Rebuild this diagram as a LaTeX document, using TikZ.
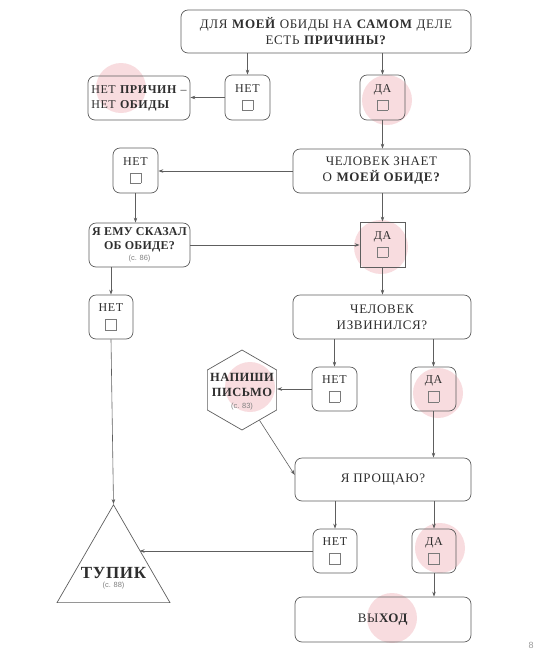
\documentclass[tikz,border=0pt]{standalone}
\usepackage{fontspec}
\setmainfont{Liberation Serif}
\setsansfont{Liberation Sans}
\usetikzlibrary{shapes.geometric,arrows.meta}
\definecolor{linec}{HTML}{5E5E5E}
\definecolor{txtc}{HTML}{2E2E2E}
\definecolor{pinkc}{HTML}{F8DCDF}
\definecolor{cbgray}{HTML}{7A7A7A}
\definecolor{pagec}{HTML}{9A9A9A}
\newcommand{\chkbox}{{\color{cbgray}\setlength{\fboxrule}{0.6pt}\setlength{\fboxsep}{0pt}\fbox{\rule{0pt}{10pt}\rule{10pt}{0pt}}}}
\newcommand{\pgref}[1]{{\sffamily\fontsize{7.5}{8}\selectfont\color{gray}#1}}
\begin{document}
\begin{tikzpicture}[x=1pt,y=-1pt,
  bx/.style={draw=linec, line width=0.7pt, rounded corners=7pt, align=center, text=txtc, inner sep=0pt,
    font=\fontsize{13}{16}\selectfont\addfontfeature{LetterSpace=5}},
  sbx/.style={bx, minimum width=45pt, minimum height=45pt,
    font=\fontsize{12}{14}\selectfont\addfontfeature{LetterSpace=5}},
  arr/.style={draw=linec, line width=0.6pt, -{Stealth[length=5pt,width=3.5pt]}},
  blob/.style={fill=pinkc}
]
\useasboundingbox (0,0) rectangle (535,657);
% pink highlights
\fill[blob] (121,88) circle (25pt);
\fill[blob] (387,100) circle (25pt);
\fill[blob] (381,247) circle (27pt);
\fill[blob] (250,387) circle (25pt);
\fill[blob] (438,393) circle (25pt);
\fill[blob] (440,548) circle (25pt);
\fill[blob] (392,618) circle (25pt);

% nodes
\node[bx, minimum width=290pt, minimum height=43pt] (top) at (326,31.5) {ДЛЯ \textbf{МОЕЙ} ОБИДЫ НА \textbf{САМОМ} ДЕЛЕ\\ЕСТЬ \textbf{ПРИЧИНЫ?}};
\node[sbx] (net1) at (247.5,97.5) {НЕТ\\[4pt]\chkbox};
\node[sbx] (da1) at (382.5,97.5) {ДА\\[4pt]\chkbox};
\node[bx, minimum width=102pt, minimum height=44pt, align=left, font=\fontsize{12}{15}\selectfont\addfontfeature{LetterSpace=5}] (noreason) at (139,98) {НЕТ \textbf{ПРИЧИН} –\\НЕТ \textbf{ОБИДЫ}};
\node[bx, minimum width=177pt, minimum height=44pt] (know) at (381.5,171) {ЧЕЛОВЕК ЗНАЕТ\\О \textbf{МОЕЙ ОБИДЕ?}};
\node[sbx] (net2) at (135.5,170.5) {НЕТ\\[4pt]\chkbox};
\node[bx, minimum width=101pt, minimum height=44pt, font=\bfseries\fontsize{12}{14}\selectfont\addfontfeature{LetterSpace=2}] (told) at (139.5,245) {Я ЕМУ СКАЗАЛ\\ОБ ОБИДЕ?\\[-3pt]\pgref{\mdseries(с. 86)}};
\node[sbx, sharp corners] (da2) at (382.5,244.5) {ДА\\[4pt]\chkbox};
\node[bx, minimum width=178pt, minimum height=44pt] (apol) at (382,317) {ЧЕЛОВЕК\\ИЗВИНИЛСЯ?};
\node[sbx, minimum width=44pt, minimum height=44pt] (net3) at (111,317) {НЕТ\\[4pt]\chkbox};
\node[sbx, minimum height=44pt] (net4) at (334.5,389) {НЕТ\\[4pt]\chkbox};
\node[sbx, minimum height=44pt] (da4) at (433.5,389) {ДА\\[4pt]\chkbox};
\node[draw=linec, line width=0.7pt, regular polygon, regular polygon sides=6, shape border rotate=30, minimum size=80pt, inner sep=0pt] (hex) at (242,390) {};
\node[align=center, text=txtc, font=\bfseries\fontsize{12.5}{15}\selectfont\addfontfeature{LetterSpace=4}] (hext) at (242,392) {НАПИШИ\\ПИСЬМО\\[-3pt]\pgref{\mdseries(с. 83)}};
\node[bx, minimum width=176pt, minimum height=43pt] (forgive) at (383,479.5) {Я ПРОЩАЮ?};
\node[sbx, minimum width=44pt, minimum height=44pt] (net5) at (335,551) {НЕТ\\[4pt]\chkbox};
\node[sbx, minimum width=44pt, minimum height=44pt] (da5) at (434,551) {ДА\\[4pt]\chkbox};
\node[bx, minimum width=176pt, minimum height=45pt] (exit) at (383,619.5) {ВЫ\textbf{ХОД}};
\node[draw=linec, line width=0.7pt, regular polygon, regular polygon sides=3, minimum size=130.4pt, inner sep=0pt] (tri) at (113.5,570) {};
\node[align=center, text=txtc] (tupt) at (113.5,578) {{\bfseries\fontsize{17}{18}\selectfont\addfontfeature{LetterSpace=4}ТУПИК}\\[-3pt]\pgref{(с. 88)}};
\node[font=\sffamily\fontsize{9}{9}\selectfont, text=pagec, inner sep=0pt] (pnum) at (531,645) {8};
\coordinate (tin) at (139.5,551);

% connectors
\draw[arr] (top.south -| net1) -- (net1.north);
\draw[arr] (top.south -| da1) -- (da1.north);
\draw[arr] (net1.west) -- (net1.west -| noreason.east);
\draw[arr] (da1.south) -- (da1.south |- know.north);
\draw[arr] (know.west) -- (know.west -| net2.east);
\draw[arr] (net2.south) -- (net2.south |- told.north);
\draw[arr] (told.east) -- (told.east -| da2.west);
\draw[arr] (know.south -| da2) -- (da2.north);
\draw[arr] (da2.south) -- (da2.south |- apol.north);
\draw[arr] (told.south -| net3) -- (net3.north);
\draw[arr] (net3.south) -- (tri.corner 1);
\draw[arr] (apol.south -| net4) -- (net4.north);
\draw[arr] (apol.south -| da4) -- (da4.north);
\draw[arr] (net4.west) -- (net4.west -| hex.east);
\draw[arr] (hex.-60) -- (forgive.177);
\draw[arr] (da4.south) -- (da4.south |- forgive.north);
\draw[arr] (forgive.south -| net5) -- (net5.north);
\draw[arr] (forgive.south -| da5) -- (da5.north);
\draw[arr] (net5.west) -- (tin);
\draw[arr] (da5.south) -- (da5.south |- exit.north);
\end{tikzpicture}
\end{document}
